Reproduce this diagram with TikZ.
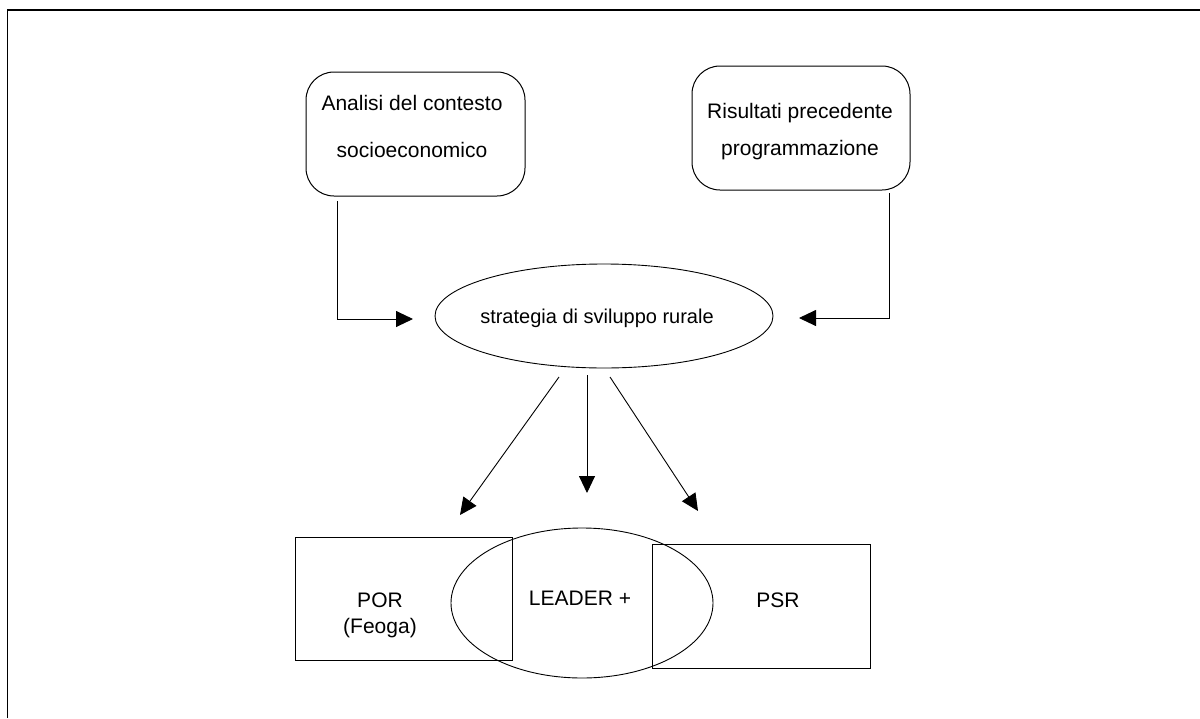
\documentclass[tikz,border=0pt]{standalone}
\usepackage{fontspec}
\setmainfont{Liberation Sans}
\usetikzlibrary{arrows.meta,shapes.geometric}
\begin{document}
\begin{tikzpicture}[x=1pt,y=-1pt,
  txt/.style={font=\fontsize{21}{25}\selectfont, inner sep=0pt, anchor=base},
  rbox/.style={draw, line width=1pt, rounded corners=28pt, inner sep=0pt},
  sqbox/.style={draw, line width=0.9pt, inner sep=0pt},
  oval/.style={draw, ellipse, line width=0.9pt, inner sep=0pt},
  conn/.style={line width=0.9pt, -{Triangle[length=17pt,width=16pt]}}]
\useasboundingbox (0,0) rectangle (1200,718);
% outer frame
\draw[line width=1.7pt] (7.5,718) -- (7.5,10) -- (1200,10);
% top boxes
\node[rbox, minimum width=219pt, minimum height=124pt] (ana) at (415.5,134) {};
\node[txt] (ana1) at (412,110) {Analisi del contesto};
\node[txt] (ana2) at (412,157) {socioeconomico};
\node[rbox, minimum width=218pt, minimum height=124pt] (ris) at (801,128) {};
\node[txt] (ris1) at (800,118) {Risultati precedente};
\node[txt] (ris2) at (800,155) {programmazione};
% central ellipse
\node[oval, minimum width=338pt, minimum height=104pt] (str) at (604,316) {};
\node[txt, font=\fontsize{20}{24}\selectfont] (strt) at (597,323) {strategia di sviluppo rurale};
% bottom shapes
\node[sqbox, minimum width=217pt, minimum height=123pt] (por) at (403.5,598.5) {};
\node[sqbox, minimum width=218pt, minimum height=124pt] (psr) at (761,606) {};
\node[oval, minimum width=262pt, minimum height=150pt] (lea) at (582,603) {};
\node[txt] (por1) at (380,607) {POR};
\node[txt] (por2) at (380,633) {(Feoga)};
\node[txt] (leat) at (580,605) {LEADER +};
\node[txt] (psrt) at (778,607) {PSR};
% connectors
\coordinate (a1) at (337,201);
\coordinate (t1) at (413,319);
\coordinate (a2) at (889,193);
\coordinate (t2) at (799,318);
\draw[conn] (a1) |- (t1);
\draw[conn] (a2) |- (t2);
\coordinate (s1) at (559,377);
\coordinate (e1) at (460,515);
\coordinate (s2) at (587,375);
\coordinate (e2) at (587,493);
\coordinate (s3) at (610,377);
\coordinate (e3) at (698,511);
\draw[conn] (s1) -- (e1);
\draw[conn] (s2) -- (e2);
\draw[conn] (s3) -- (e3);
\end{tikzpicture}
\end{document}
